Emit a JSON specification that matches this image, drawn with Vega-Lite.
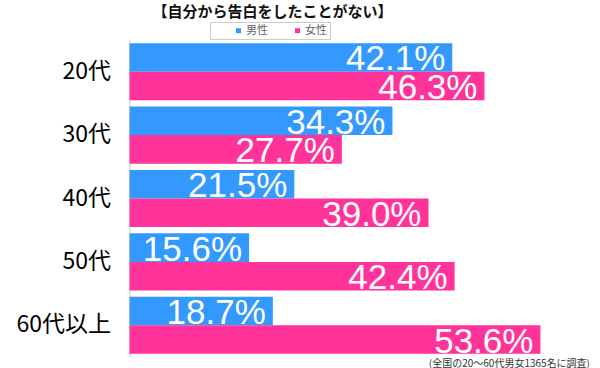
{
  "$schema": "https://vega.github.io/schema/vega-lite/v6.json",
  "width": 460,
  "height": 317,
  "autosize": {"type": "none"},
  "padding": {"left": 129.5, "top": 40, "right": 10.5, "bottom": 11},
  "background": "white",
  "title": {
    "text": "【自分から告白をしたことがない】",
    "font": "Noto Sans CJK JP",
    "fontSize": 15,
    "fontWeight": "bold",
    "color": "#111111",
    "anchor": "middle",
    "dx": -87,
    "offset": 2
  },
  "data": {
    "values": [
      {"age": "20代", "sex": "男性", "value": 0.421},
      {"age": "20代", "sex": "女性", "value": 0.463},
      {"age": "30代", "sex": "男性", "value": 0.343},
      {"age": "30代", "sex": "女性", "value": 0.277},
      {"age": "40代", "sex": "男性", "value": 0.215},
      {"age": "40代", "sex": "女性", "value": 0.390},
      {"age": "50代", "sex": "男性", "value": 0.156},
      {"age": "50代", "sex": "女性", "value": 0.424},
      {"age": "60代以上", "sex": "男性", "value": 0.187},
      {"age": "60代以上", "sex": "女性", "value": 0.536}
    ]
  },
  "encoding": {
    "y": {
      "field": "age",
      "type": "nominal",
      "sort": ["20代", "30代", "40代", "50代", "60代以上"],
      "scale": {"paddingInner": 0.1, "paddingOuter": 0.05},
      "axis": {
        "title": null,
        "ticks": false,
        "labelFont": "Noto Sans CJK JP",
        "labelFontSize": 23,
        "labelColor": "#000000",
        "labelPadding": 19,
        "domainColor": "#cccccc",
        "domainWidth": 1
      }
    },
    "yOffset": {
      "field": "sex",
      "type": "nominal",
      "sort": ["男性", "女性"],
      "scale": {"paddingInner": 0, "paddingOuter": 0}
    },
    "x": {
      "field": "value",
      "type": "quantitative",
      "scale": {"domain": [0, 0.6], "nice": false},
      "axis": {
        "title": "(全国の20～60代男女1365名に調査)",
        "titleAnchor": "end",
        "titleFont": "Noto Sans CJK JP",
        "titleFontSize": 10,
        "titleFontWeight": "normal",
        "titleColor": "#333333",
        "titlePadding": 1,
        "labels": false,
        "ticks": false,
        "domain": false,
        "grid": false
      }
    }
  },
  "layer": [
    {
      "mark": {"type": "bar"},
      "encoding": {
        "color": {
          "field": "sex",
          "type": "nominal",
          "sort": ["男性", "女性"],
          "scale": {"domain": ["男性", "女性"], "range": ["#3399ff", "#ff3399"]},
          "legend": {
            "title": null,
            "orient": "none",
            "direction": "horizontal",
            "legendX": 80.5,
            "legendY": -18,
            "symbolType": "square",
            "symbolSize": 25,
            "symbolStrokeWidth": 0,
            "symbolOffset": 20,
            "labelFont": "Noto Sans CJK JP",
            "labelFontSize": 11,
            "labelColor": "#666666",
            "labelOffset": 2,
            "columnPadding": 4,
            "padding": 3,
            "strokeColor": "#cccccc",
            "fillColor": "#ffffff"
          }
        }
      }
    },
    {
      "mark": {
        "type": "text",
        "align": "right",
        "baseline": "middle",
        "dx": -7,
        "dy": 2,
        "font": "Liberation Sans",
        "fontSize": 35,
        "color": "#ffffff"
      },
      "encoding": {
        "text": {"field": "value", "type": "quantitative", "format": ".1%"}
      }
    }
  ],
  "config": {"view": {"stroke": null}}
}
